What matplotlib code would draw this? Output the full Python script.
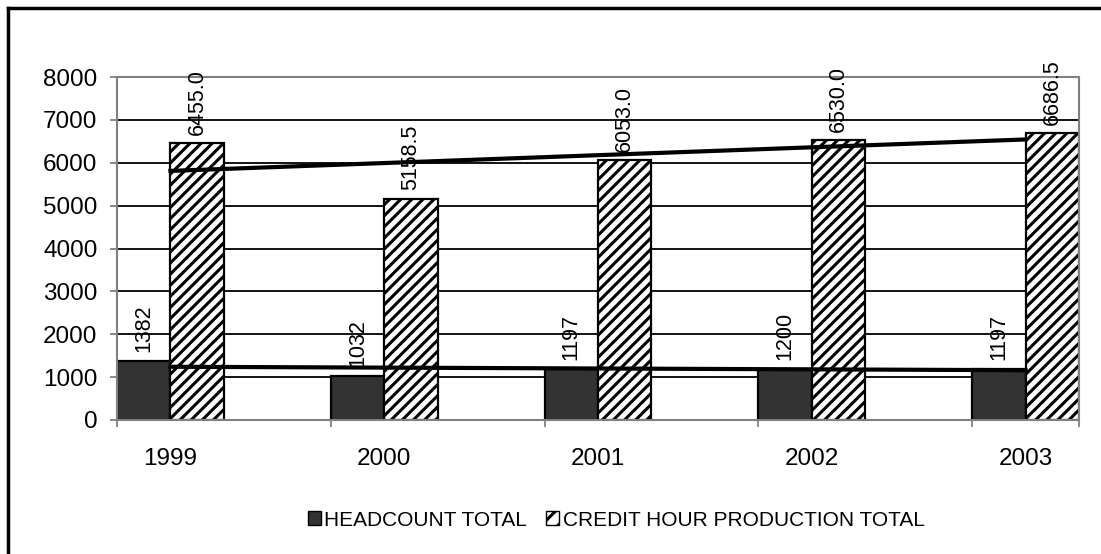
import matplotlib
matplotlib.use("Agg")
import matplotlib.pyplot as plt
import numpy as np
from matplotlib.lines import Line2D
import matplotlib.patches as mpatches

plt.rcParams['font.family'] = ['Liberation Sans', 'DejaVu Sans']
plt.rcParams['hatch.linewidth'] = 2.2

# data
years = ["1999", "2000", "2001", "2002", "2003"]
headcount = [1382, 1032, 1197, 1200, 1197]
credit_hours = [6455.0, 5158.5, 6053.0, 6530.0, 6686.5]

x = np.arange(len(years))
bw = 0.25

fig = plt.figure(figsize=(11.01, 5.54), dpi=100)
ax = fig.add_axes([117 / 1101, 1 - 420 / 554, (1079 - 117) / 1101, (420 - 77) / 554])

# gridlines
ax.set_ylim(0, 8000)
ax.set_yticks(range(0, 8001, 1000))
ax.yaxis.grid(True, color='black', linewidth=1.3, zorder=0)
ax.set_axisbelow(True)

ax.bar(x - bw / 2, headcount, width=bw, color='#333333', edgecolor='black',
       linewidth=1.6, zorder=2, label='HEADCOUNT TOTAL')
ax.bar(x + bw / 2, credit_hours, width=bw, color='white', edgecolor='black',
       hatch='///', linewidth=1.6, zorder=2, label='CREDIT HOUR PRODUCTION TOTAL')

# linear trendlines
for vals in (headcount, credit_hours):
    m, b = np.polyfit(x, vals, 1)
    ax.plot(x, m * x + b, color='black', linewidth=3, zorder=3)

# data labels
for xi, v in zip(x, headcount):
    ax.annotate(f"{v:d}", (xi - bw / 2, v), xytext=(0, 6), textcoords='offset points',
                rotation=90, ha='center', va='bottom', fontsize=15.5,
                annotation_clip=False, zorder=4)
for xi, v in zip(x, credit_hours):
    ax.annotate(f"{v:.1f}", (xi + bw / 2, v), xytext=(0, 6), textcoords='offset points',
                rotation=90, ha='center', va='bottom', fontsize=15.5,
                annotation_clip=False, zorder=4)

ax.set_xlim(-0.25, 4.25)
ax.set_xticks(x)
ax.set_xticklabels(years, fontsize=17.5)
ax.set_xticks(np.append(x - 0.25, 4.25), minor=True)
ax.tick_params(axis='x', which='major', length=0, pad=20)
ax.tick_params(axis='x', which='minor', length=5, width=1.3, color='#808080')
ax.tick_params(axis='y', length=5, width=1.3, color='#808080', pad=9, labelsize=17.5)

for s in ax.spines.values():
    s.set_color('#808080')
    s.set_linewidth(1.5)

# legend
handles = [mpatches.Patch(facecolor='#333333', edgecolor='black', label='HEADCOUNT TOTAL'),
           mpatches.Patch(facecolor='white', edgecolor='black', hatch='//',
                          label='CREDIT HOUR PRODUCTION TOTAL')]
fig.legend(handles=handles, loc='center', bbox_to_anchor=(616 / 1101, 1 - 520 / 554),
           ncol=2, frameon=False, fontsize=15, handlelength=0.65, handleheight=0.65,
           handletextpad=0.15, columnspacing=0.9)

# chart border (top and left visible)
fig.add_artist(Line2D([7.5 / 1101, 7.5 / 1101], [0, 1 - 7.5 / 554], color='black',
                      linewidth=2.5, transform=fig.transFigure))
fig.add_artist(Line2D([7.5 / 1101, 1], [1 - 7.5 / 554, 1 - 7.5 / 554], color='black',
                      linewidth=2.5, transform=fig.transFigure))

fig.savefig("out.png", dpi=100)
